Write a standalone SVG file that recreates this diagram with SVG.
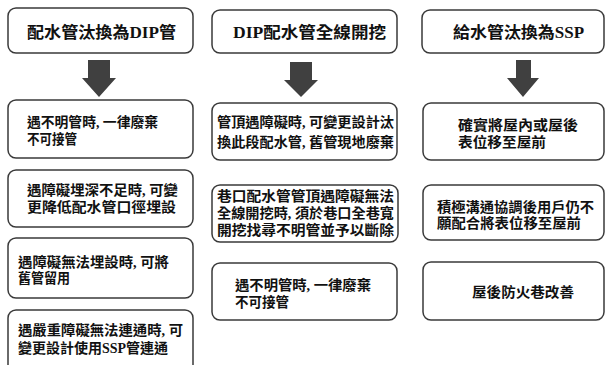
<svg xmlns="http://www.w3.org/2000/svg" width="605" height="365" viewBox="0 0 605 365">
<style>
.box{fill:#fff;stroke:#3a3a3a;stroke-width:1.5}
.t{font-family:"Liberation Serif","Noto Sans CJK TC",serif;font-weight:700;fill:#111;font-size:14px}
.h{font-family:"Liberation Serif","Noto Sans CJK TC",serif;font-weight:700;fill:#111;font-size:16px}
.arr{fill:#404040}
</style>
<rect width="605" height="365" fill="#fff"/>
<g id="connectors">
<polygon class="arr" points="88,60 110,60 110,78 116,78 99,97 82,78 88,78"/>
<polygon class="arr" points="290,62 312,62 312,80 318,80 301,97 284,80 290,80"/>
<polygon class="arr" points="516,60 531,60 531,78 539,78 523,97 507,78 516,78"/>
</g>
<g id="h1"><rect class="box" x="8" y="8" width="185" height="45" rx="8"/><text class="h" x="27" y="38" textLength="149" lengthAdjust="spacingAndGlyphs">配水管汰換為DIP管</text></g>
<g id="h2"><rect class="box" x="212" y="10" width="185" height="43" rx="8"/><text class="h" x="233" y="38" textLength="153" lengthAdjust="spacingAndGlyphs">DIP配水管全線開挖</text></g>
<g id="h3"><rect class="box" x="422" y="10" width="182" height="43" rx="8"/><text class="h" x="453" y="38" textLength="131" lengthAdjust="spacingAndGlyphs">給水管汰換為SSP</text></g>

<g id="c1b1"><rect class="box" x="8" y="100" width="185" height="58" rx="8"/>
<text class="t" x="27" y="127" textLength="131" lengthAdjust="spacingAndGlyphs">遇不明管時, 一律廢棄</text>
<text class="t" x="27" y="144" textLength="50" lengthAdjust="spacingAndGlyphs">不可接管</text></g>
<g id="c1b2"><rect class="box" x="8" y="170" width="185" height="57" rx="8"/>
<text class="t" x="27" y="195" textLength="151" lengthAdjust="spacingAndGlyphs">遇障礙埋深不足時, 可變</text>
<text class="t" x="27" y="212" textLength="149" lengthAdjust="spacingAndGlyphs">更降低配水管口徑埋設</text></g>
<g id="c1b3"><rect class="box" x="8" y="238" width="185" height="60" rx="8"/>
<text class="t" x="18" y="267" textLength="151" lengthAdjust="spacingAndGlyphs">遇障礙無法埋設時, 可將</text>
<text class="t" x="18" y="283" textLength="52" lengthAdjust="spacingAndGlyphs">舊管留用</text></g>
<g id="c1b4"><rect class="box" x="8" y="310" width="185" height="70" rx="8"/>
<text class="t" x="18" y="335" textLength="165" lengthAdjust="spacingAndGlyphs">遇嚴重障礙無法連通時, 可</text>
<text class="t" x="18" y="353" textLength="150" lengthAdjust="spacingAndGlyphs">變更設計使用SSP管連通</text></g>

<g id="c2b1"><rect class="box" x="212" y="103" width="185" height="57" rx="8"/>
<text class="t" x="217" y="127" textLength="177" lengthAdjust="spacingAndGlyphs">管頂遇障礙時, 可變更設計汰</text>
<text class="t" x="217" y="147" textLength="177" lengthAdjust="spacingAndGlyphs">換此段配水管, 舊管現地廢棄</text></g>
<g id="c2b2"><rect class="box" x="212" y="185" width="186" height="57" rx="8"/>
<text class="t" x="217" y="201" textLength="177" lengthAdjust="spacingAndGlyphs">巷口配水管管頂遇障礙無法</text>
<text class="t" x="217" y="218" textLength="177" lengthAdjust="spacingAndGlyphs">全線開挖時, 須於巷口全巷寬</text>
<text class="t" x="217" y="235" textLength="177" lengthAdjust="spacingAndGlyphs">開挖找尋不明管並予以斷除</text></g>
<g id="c2b3"><rect class="box" x="212" y="263" width="185" height="57" rx="8"/>
<text class="t" x="235" y="290" textLength="136" lengthAdjust="spacingAndGlyphs">遇不明管時, 一律廢棄</text>
<text class="t" x="235" y="307" textLength="54" lengthAdjust="spacingAndGlyphs">不可接管</text></g>

<g id="c3b1"><rect class="box" x="423" y="103" width="181" height="57" rx="8"/>
<text class="t" x="458" y="130" textLength="120" lengthAdjust="spacingAndGlyphs">確實將屋內或屋後</text>
<text class="t" x="458" y="147" textLength="88" lengthAdjust="spacingAndGlyphs">表位移至屋前</text></g>
<g id="c3b2"><rect class="box" x="423" y="185" width="181" height="55" rx="8"/>
<text class="t" x="437" y="212" textLength="157" lengthAdjust="spacingAndGlyphs">積極溝通協調後用戶仍不</text>
<text class="t" x="437" y="228" textLength="144" lengthAdjust="spacingAndGlyphs">願配合將表位移至屋前</text></g>
<g id="c3b3"><rect class="box" x="423" y="262" width="181" height="58" rx="8"/>
<text class="t" x="472" y="297" textLength="102" lengthAdjust="spacingAndGlyphs">屋後防火巷改善</text></g>
</svg>
